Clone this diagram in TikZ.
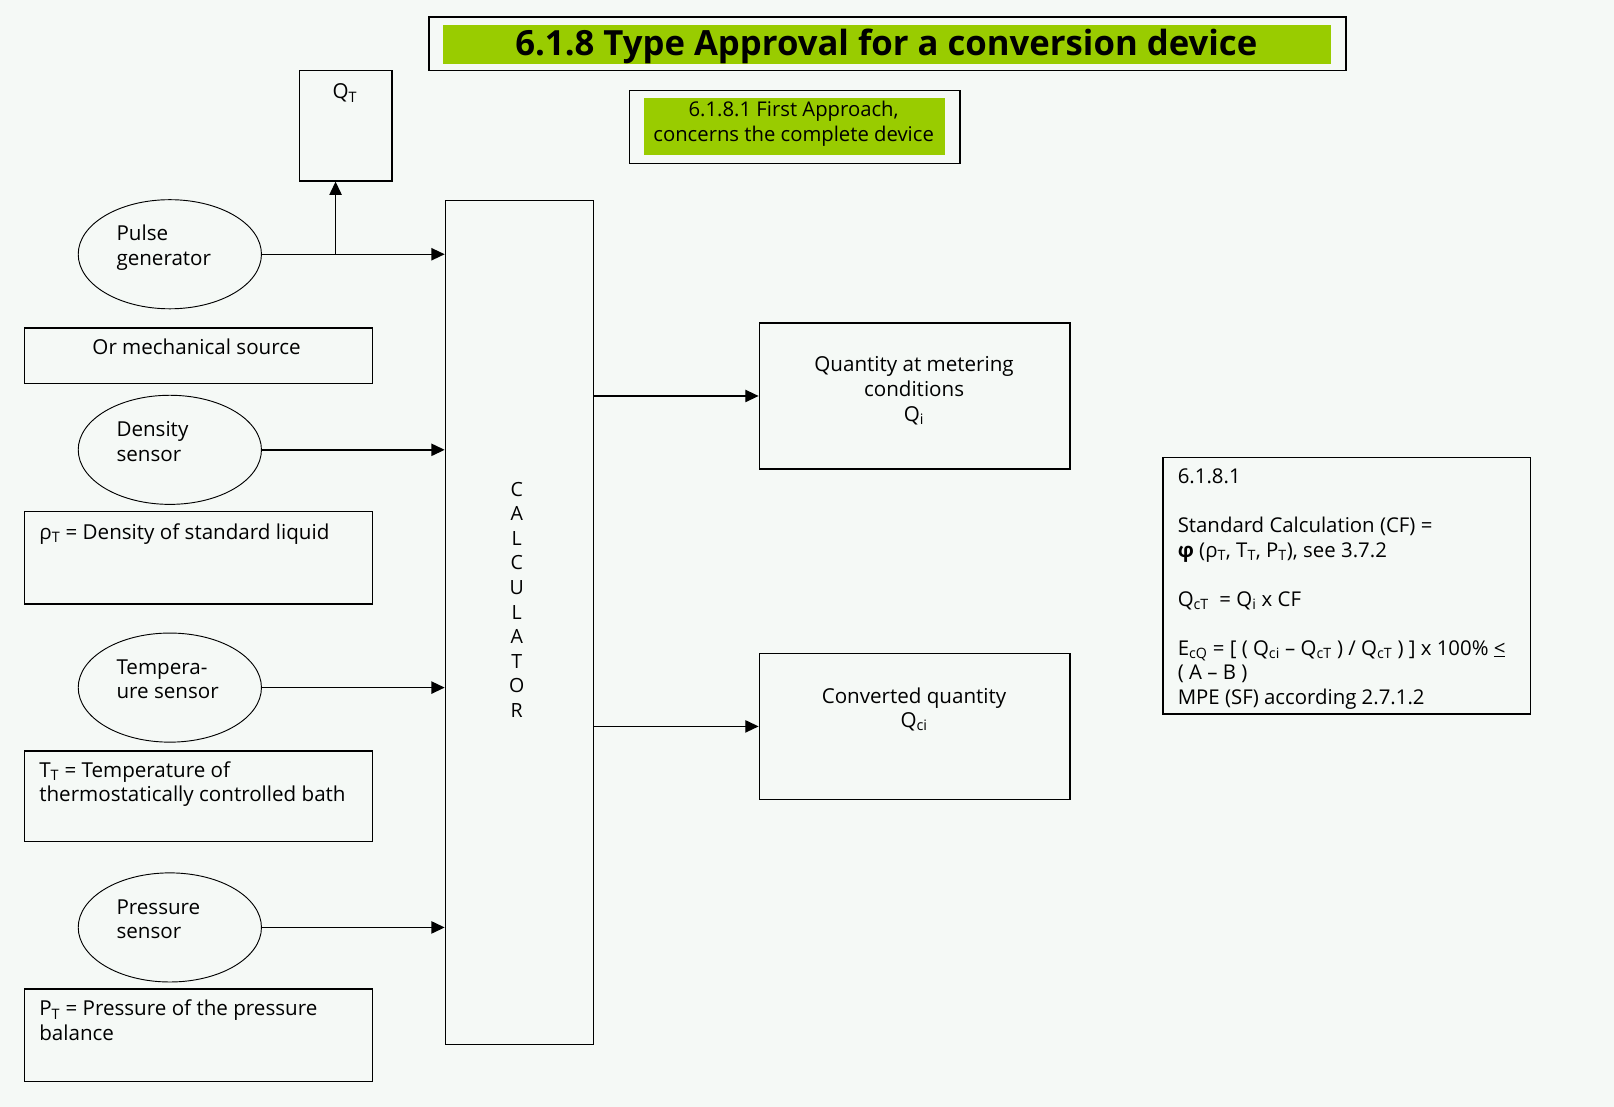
\documentclass[tikz,border=0pt]{standalone}
\usepackage{fontspec}
\setmainfont{Open Sans}
\newfontfamily\grk{Open Sans}
\usetikzlibrary{shapes.geometric,arrows.meta,calc}
\definecolor{bg}{RGB}{245,249,246}
\definecolor{lime}{RGB}{153,204,0}
\begin{document}
\begin{tikzpicture}[x=1pt,y=-1pt,
  box/.style={draw,line width=1.4pt,inner sep=0pt,anchor=north west},
  fillbox/.style={fill=lime,inner sep=0pt,anchor=north west},
  ell/.style={ellipse,draw,line width=0.9pt,minimum width=178pt,minimum height=106pt,inner sep=0pt},
  txt/.style={inner sep=0pt,font=\fontsize{20}{24}\selectfont,align=left,anchor=north west},
  ctxt/.style={inner sep=0pt,font=\fontsize{20}{24}\selectfont,align=center,anchor=north},
  arr/.style={-{Triangle[length=13pt,width=12pt]},line width=1.4pt}]
\fill[bg] (0,0) rectangle (1568,1075);
\useasboundingbox (0,0) rectangle (1568,1075);

% title
\node[box,minimum width=891pt,minimum height=52pt] (titlebox) at (416,16) {};
\node[fillbox,minimum width=863pt,minimum height=38pt] (titlefill) at (430,24) {};
\node[inner sep=0pt,anchor=base,font=\fontsize{33.7}{38}\selectfont\bfseries] (title) at (861,54) {6.1.8 Type Approval for a conversion device};

% subtitle
\node[box,minimum width=321pt,minimum height=71pt] (subbox) at (611,87) {};
\node[fillbox,minimum width=293pt,minimum height=55pt] (subfill) at (625,95) {};
\node[ctxt,font=\fontsize{19.7}{24}\selectfont] (sub) at (771,96) {\strut 6.1.8.1 First Approach,\\concerns the complete device};

% Q_T box
\node[box,minimum width=90pt,minimum height=107pt] (qt) at (290,68) {};
\node[ctxt] (qtl) at (335,79) {\strut Q\textsubscript{T}};

% calculator
\node[box,minimum width=144pt,minimum height=820pt] (calc) at (432,194) {};
\node[ctxt,font=\fontsize{19}{23.9}\selectfont] (calcl) at (502,465) {\strut C\\A\\L\\C\\U\\L\\A\\T\\O\\R};

% ellipses
\node[ell] (pg) at (165,247) {};
\node[txt] (pgl) at (113,217) {\strut Pulse\\generator};
\node[ell] (ds) at (165,437) {};
\node[txt] (dsl) at (113,407) {\strut Density\\sensor};
\node[ell] (ts) at (165,668) {};
\node[txt] (tsl) at (113,638) {\strut Tempera-\\ure sensor};
\node[ell] (ps) at (165,901) {};
\node[txt] (psl) at (113,871) {\strut Pressure\\sensor};

% left boxes
\node[box,minimum width=338pt,minimum height=54pt] (mech) at (23,318) {};
\node[ctxt] (mechl) at (191,327) {\strut Or mechanical source};
\node[box,minimum width=338pt,minimum height=90pt] (rho) at (23,496) {};
\node[txt] (rhol) at (38,507) {\strut {\grk ρ}\textsubscript{T} = Density of standard liquid};
\node[box,minimum width=338pt,minimum height=88pt] (tt) at (23,729) {};
\node[txt] (ttl) at (38,738) {\strut T\textsubscript{T} = Temperature of\\thermostatically controlled bath};
\node[box,minimum width=338pt,minimum height=90pt] (pt) at (23,960) {};
\node[txt] (ptl) at (38,970) {\strut P\textsubscript{T} = Pressure of the pressure\\balance};

% output boxes
\node[box,minimum width=302pt,minimum height=142pt] (qi) at (737,313) {};
\node[ctxt] (qil) at (888,344) {\strut Quantity at metering\\conditions\\Q\textsubscript{i}};
\node[box,minimum width=302pt,minimum height=142pt] (qci) at (737,634) {};
\node[ctxt] (qcil) at (888,666) {\strut Converted quantity\\Q\textsubscript{ci}};

% formula box
\node[box,minimum width=357pt,minimum height=249pt] (form) at (1129,444) {};
\node[txt,font=\fontsize{19.8}{23.8}\selectfont] (forml) at (1144,453) {\strut 6.1.8.1\\\strut\\Standard Calculation (CF) =\\{\grk\bfseries φ} ({\grk ρ}\textsubscript{T}, T\textsubscript{T}, P\textsubscript{T}), see 3.7.2\\\strut\\Q\textsubscript{cT} \ = Q\textsubscript{i} x CF\\\strut\\E\textsubscript{cQ} = [ ( Q\textsubscript{ci} – Q\textsubscript{cT} ) / Q\textsubscript{cT} ) ] x 100\% \underline{<}\\( A – B )\\MPE (SF) according 2.7.1.2};

% connectors
\coordinate (br) at (326,247);
\draw[arr] (pg.east) -- (pg.east -| calc.west);
\draw[arr] (br) -- (br |- qt.south);
\draw[arr] (ds.east) -- (ds.east -| calc.west);
\draw[arr] (ts.east) -- (ts.east -| calc.west);
\draw[arr] (ps.east) -- (ps.east -| calc.west);
\draw[arr] (qi.west -| calc.east) -- (qi.west);
\draw[arr] (qci.west -| calc.east) -- (qci.west);
\end{tikzpicture}
\end{document}
